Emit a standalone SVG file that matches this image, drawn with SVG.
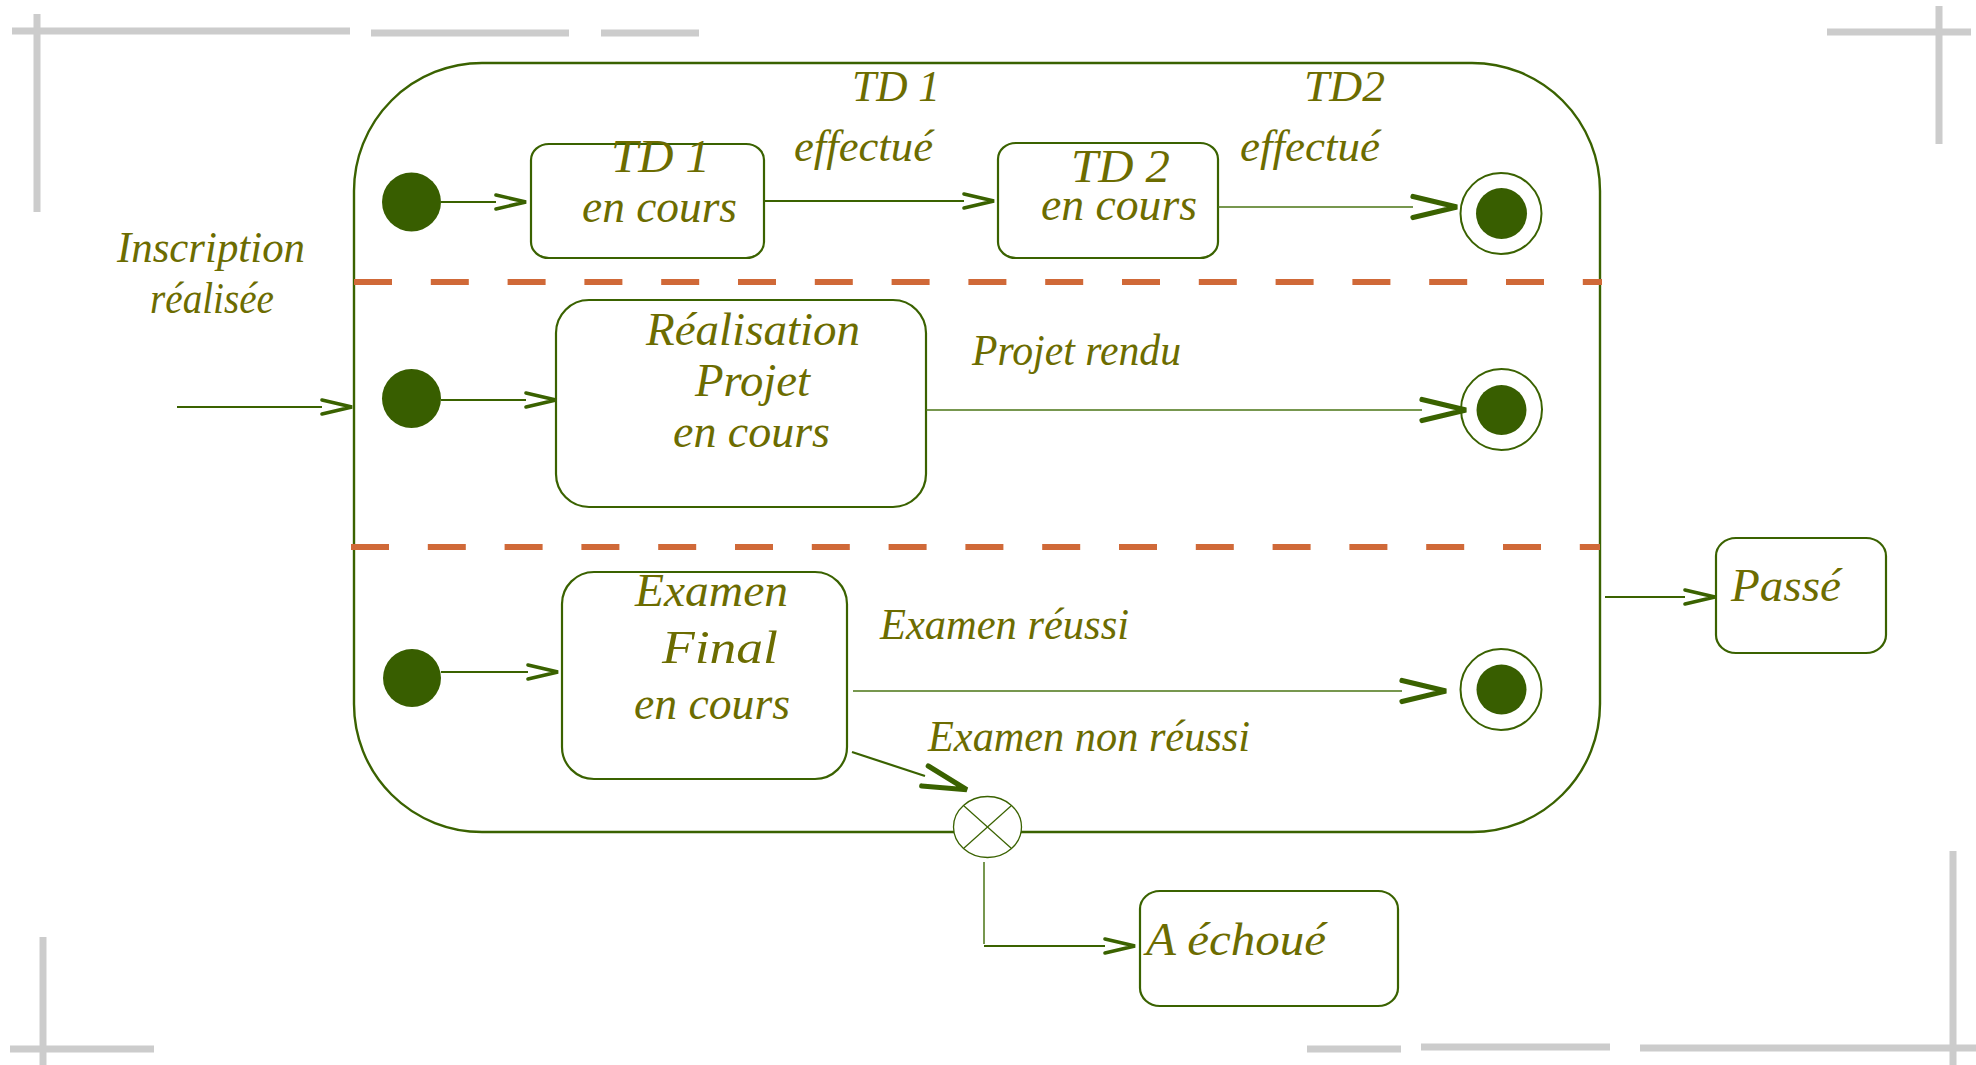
<svg xmlns="http://www.w3.org/2000/svg" width="1976" height="1065" viewBox="0 0 1976 1065">
  <style>
    .frame { stroke: #cccccc; stroke-width: 7; fill: none; }
    .box { fill: #ffffff; stroke: #3a6200; stroke-width: 2.2; }
    .composite { fill: none; stroke: #3a6200; stroke-width: 2.4; }
    .region { stroke: #d06938; stroke-width: 6; stroke-dasharray: 38 38.8; fill: none; }
    .dot { fill: #385e00; }
    .ring { fill: #ffffff; stroke: #3a6200; stroke-width: 2; }
    .flow { stroke: #3a6200; stroke-width: 2.2; fill: none; }
    .flow-thin { stroke: #4a7414; stroke-width: 1.5; fill: none; }
    .term { fill: #ffffff; stroke: #3a6200; stroke-width: 1.3; }
    .term-x { stroke: #3a6200; stroke-width: 1.2; }
    text { font-family: "Liberation Serif", "DejaVu Serif", serif; font-style: italic; fill: #6c6c00; }
    .t-box { font-size: 46px; }
    .t-lbl { font-size: 44px; }
  </style>
  <defs>
    <marker id="arrow-s" markerUnits="userSpaceOnUse" orient="auto" refX="0" refY="0" markerWidth="40" markerHeight="20" viewBox="-4 -10 40 20" overflow="visible">
      <path d="M0,-7 L30,0 L0,7" fill="none" stroke="#3a6200" stroke-width="3.6" stroke-linecap="round" stroke-linejoin="miter"/>
    </marker>
    <marker id="arrow-l" markerUnits="userSpaceOnUse" orient="auto" refX="0" refY="0" markerWidth="54" markerHeight="30" viewBox="-4 -14 54 28" overflow="visible">
      <path d="M0,-10.5 L44,0 L0,10.5" fill="none" stroke="#3a6200" stroke-width="5.2" stroke-linecap="round" stroke-linejoin="miter"/>
    </marker>
  </defs>

  <rect width="1976" height="1065" fill="#ffffff"/>

  <!-- grey corner marks -->
  <g id="frame-marks" class="frame">
    <line x1="12" y1="31" x2="350" y2="31"/>
    <line x1="37" y1="14" x2="37" y2="212"/>
    <line x1="371" y1="33" x2="569" y2="33"/>
    <line x1="601" y1="33" x2="699" y2="33"/>
    <line x1="1827" y1="32" x2="1971" y2="32"/>
    <line x1="1939" y1="6" x2="1939" y2="144"/>
    <line x1="43" y1="937" x2="43" y2="1065"/>
    <line x1="10" y1="1049" x2="154" y2="1049"/>
    <line x1="1953" y1="851" x2="1953" y2="1065"/>
    <line x1="1307" y1="1049" x2="1401" y2="1049"/>
    <line x1="1421" y1="1047" x2="1610" y2="1047"/>
    <line x1="1640" y1="1048" x2="1976" y2="1048"/>
  </g>

  <!-- composite state with its three concurrent regions -->
  <g id="composite">
    <rect class="composite" x="354" y="63" width="1246" height="769" rx="128" ry="128"/>
    <line class="region" x1="354" y1="282" x2="1602" y2="282"/>
    <line class="region" x1="351" y1="547" x2="1600" y2="547"/>
  </g>

  <!-- region 1 -->
  <g id="init-td"><circle class="dot" cx="411.5" cy="202" r="29.5"/></g>
  <g id="td1">
    <rect class="box" x="531" y="144" width="233" height="114" rx="18" ry="16"/>
    <text class="t-box" x="611" y="172" textLength="99" lengthAdjust="spacingAndGlyphs">TD 1</text>
    <text class="t-box" x="582" y="222" textLength="155" lengthAdjust="spacingAndGlyphs">en cours</text>
  </g>
  <g id="td2">
    <rect class="box" x="998" y="143" width="220" height="115" rx="18" ry="16"/>
    <text class="t-box" x="1071" y="182" textLength="99" lengthAdjust="spacingAndGlyphs">TD 2</text>
    <text class="t-box" x="1041" y="220" textLength="156" lengthAdjust="spacingAndGlyphs">en cours</text>
  </g>
  <g id="final-td">
    <circle class="ring" cx="1501" cy="213.5" r="40.5"/>
    <circle class="dot" cx="1501.5" cy="213.5" r="25.5"/>
  </g>

  <!-- region 2 -->
  <g id="init-projet"><circle class="dot" cx="411.5" cy="398.5" r="29.5"/></g>
  <g id="projet">
    <rect class="box" x="556" y="300" width="370" height="207" rx="33" ry="33"/>
    <text class="t-box" x="646" y="345" textLength="214" lengthAdjust="spacingAndGlyphs">Réalisation</text>
    <text class="t-box" x="695" y="396" textLength="115" lengthAdjust="spacingAndGlyphs">Projet</text>
    <text class="t-box" x="673" y="447" textLength="157" lengthAdjust="spacingAndGlyphs">en cours</text>
  </g>
  <g id="final-projet">
    <circle class="ring" cx="1501.5" cy="409.5" r="40.5"/>
    <circle class="dot" cx="1501.5" cy="410" r="25"/>
  </g>

  <!-- region 3 -->
  <g id="init-examen"><circle class="dot" cx="412" cy="678" r="29"/></g>
  <g id="examen">
    <rect class="box" x="562" y="572" width="285" height="207" rx="32" ry="32"/>
    <text class="t-box" x="635" y="606" textLength="153" lengthAdjust="spacingAndGlyphs">Examen</text>
    <text class="t-box" x="662" y="663" textLength="116" lengthAdjust="spacingAndGlyphs">Final</text>
    <text class="t-box" x="634" y="719" textLength="156" lengthAdjust="spacingAndGlyphs">en cours</text>
  </g>
  <g id="final-examen">
    <circle class="ring" cx="1501" cy="689.5" r="40.5"/>
    <circle class="dot" cx="1501.5" cy="689.5" r="25"/>
  </g>

  <!-- states outside the composite -->
  <g id="passe">
    <rect class="box" x="1716" y="538" width="170" height="115" rx="20" ry="18"/>
    <text class="t-box" x="1731" y="601" textLength="110" lengthAdjust="spacingAndGlyphs">Passé</text>
  </g>
  <g id="echoue">
    <rect class="box" x="1140" y="891" width="258" height="115" rx="20" ry="18"/>
    <text class="t-box" x="1146" y="955" textLength="180" lengthAdjust="spacingAndGlyphs">A échoué</text>
  </g>

  <!-- transitions -->
  <g id="connectors">
    <line class="flow" x1="177" y1="407" x2="322" y2="407" marker-end="url(#arrow-s)"/>
    <line class="flow" x1="441" y1="202" x2="496" y2="202" marker-end="url(#arrow-s)"/>
    <line class="flow" x1="764" y1="201" x2="964" y2="201" marker-end="url(#arrow-s)"/>
    <line class="flow-thin" x1="1218" y1="207" x2="1413" y2="207" marker-end="url(#arrow-l)"/>
    <line class="flow" x1="441" y1="400" x2="526" y2="400" marker-end="url(#arrow-s)"/>
    <line class="flow-thin" x1="926" y1="410" x2="1422" y2="410" marker-end="url(#arrow-l)"/>
    <line class="flow" x1="441" y1="672" x2="528" y2="672" marker-end="url(#arrow-s)"/>
    <line class="flow-thin" x1="853" y1="691" x2="1402" y2="691" marker-end="url(#arrow-l)"/>
    <line class="flow" x1="852" y1="752" x2="925" y2="776" marker-end="url(#arrow-l)"/>
    <line class="flow" x1="1605" y1="597" x2="1685" y2="597" marker-end="url(#arrow-s)"/>
    <line class="flow-thin" x1="984" y1="862" x2="984" y2="944" stroke-width="1.2"/>
    <line class="flow" x1="984" y1="946" x2="1105" y2="946" marker-end="url(#arrow-s)"/>

    <g id="transition-labels" class="t-lbl">
      <text x="117" y="262" textLength="188" lengthAdjust="spacingAndGlyphs">Inscription</text>
      <text x="150" y="313" textLength="124" lengthAdjust="spacingAndGlyphs">réalisée</text>
      <text x="852" y="101" textLength="88" lengthAdjust="spacingAndGlyphs">TD 1</text>
      <text x="794" y="161" textLength="139" lengthAdjust="spacingAndGlyphs">effectué</text>
      <text x="1304" y="101" textLength="81" lengthAdjust="spacingAndGlyphs">TD2</text>
      <text x="1240" y="161" textLength="140" lengthAdjust="spacingAndGlyphs">effectué</text>
      <text x="972" y="365" textLength="209" lengthAdjust="spacingAndGlyphs">Projet rendu</text>
      <text x="880" y="639" textLength="249" lengthAdjust="spacingAndGlyphs">Examen réussi</text>
      <text x="928" y="751" textLength="322" lengthAdjust="spacingAndGlyphs">Examen non réussi</text>
    </g>
  </g>

  <!-- terminate pseudo-state sitting on the composite border -->
  <g id="terminate">
    <ellipse class="term" cx="987.5" cy="827" rx="34" ry="30.5"/>
    <line class="term-x" x1="963.5" y1="805.5" x2="1011.5" y2="848.5"/>
    <line class="term-x" x1="1011.5" y1="805.5" x2="963.5" y2="848.5"/>
  </g>
</svg>
